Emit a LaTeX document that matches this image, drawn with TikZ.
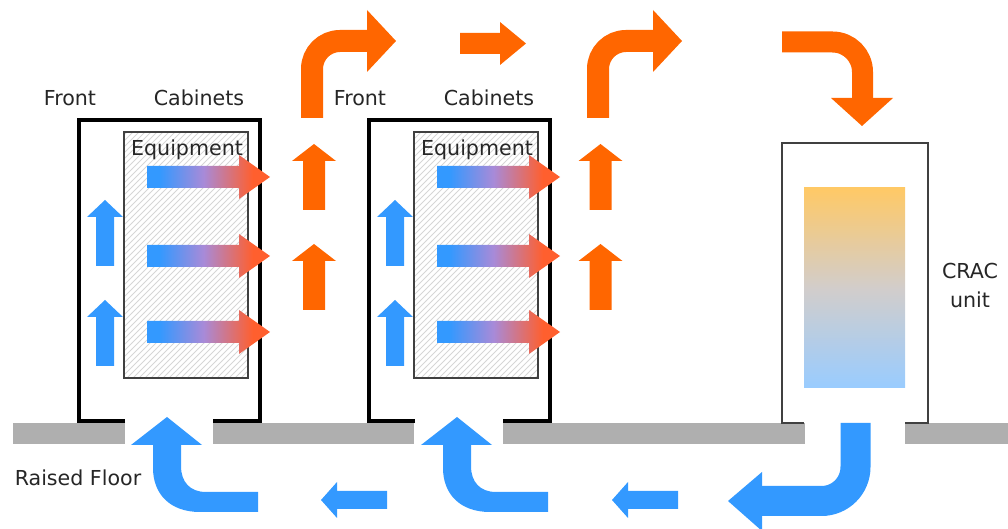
\documentclass[tikz,border=0pt]{standalone}
\usepackage{fontspec}
\setmainfont{DejaVu Sans}
\usetikzlibrary{patterns}
\definecolor{hotair}{HTML}{FF6600}
\definecolor{coldair}{HTML}{3399FF}
\definecolor{warmred}{HTML}{FF5F2E}
\definecolor{heatmid}{HTML}{A88AD8}
\definecolor{floorgray}{HTML}{AFAFAF}
\definecolor{cracwarm}{HTML}{FFC966}
\definecolor{cracmid}{HTML}{D2CDCB}
\definecolor{craccool}{HTML}{99CCFF}
\pgfdeclarehorizontalshading{heat}{100bp}{color(0bp)=(coldair); color(25bp)=(coldair);
  color(30bp)=(coldair); color(48bp)=(heatmid); color(68bp)=(warmred); color(100bp)=(warmred)}
\tikzset{
  lbl/.style={font=\fontsize{10.3}{14}\selectfont,text=black!85,inner sep=0pt,anchor=base},
  cabinet/.style={draw=black,line width=2pt,line join=miter},
  equipment/.style={draw=black!75,line width=0.6pt,pattern=north east lines,pattern color=black!16},
  crac/.style={draw=black!75,line width=0.7pt},
  floor/.style={fill=floorgray},
  hot/.style={fill=hotair},
  cold/.style={fill=coldair},
  hotflow/.style={draw=hotair,line width=11pt},
  coldflow/.style={draw=coldair,line width=15pt},
  heating/.style={shading=heat},
}

\begin{document}
\begin{tikzpicture}[x=0.5pt,y=-0.5pt]
\useasboundingbox (0,0) rectangle (1008,529);
\foreach \a/\b in {13/125, 213/414, 503/805, 905/1008}
  \fill[floor] (\a,423) rectangle (\b,444);
\foreach \dx/\n in {0/1, 290/2}
{
  \draw[cabinet] ({125+\dx},421) -- ({79+\dx},421) -- ({79+\dx},120) -- ({260+\dx},120)
    -- ({260+\dx},421) -- ({213+\dx},421);
  \draw[equipment] ({124+\dx},132) rectangle ({248+\dx},378);
  \node[lbl] (front\n) at ({70+\dx},106) {Front};
  \node[lbl] (cabinets\n) at ({199+\dx},106) {Cabinets};
  \node[lbl] (equipment\n) at ({187+\dx},156) {Equipment};
  \foreach \cy in {177,256,332}
    \shade[heating] ({147+\dx},{\cy-11}) -- ({239+\dx},{\cy-11}) -- ({239+\dx},{\cy-22})
      -- ({270+\dx},\cy) -- ({239+\dx},{\cy+22}) -- ({239+\dx},{\cy+11})
      -- ({147+\dx},{\cy+11}) -- cycle;
  \fill[cold] ({131+\dx},445) -- ({167+\dx},417) -- ({202+\dx},445) -- ({181+\dx},445)
    -- ({181+\dx},466) .. controls ({181+\dx},482) and ({190+\dx},492) .. ({206+\dx},492)
    -- ({258+\dx},492) -- ({258+\dx},512) -- ({200+\dx},512)
    .. controls ({170+\dx},512) and ({153+\dx},494) .. ({153+\dx},468)
    -- ({153+\dx},445) -- cycle;
}
\foreach \cx/\tip/\w/\h/\col in {105/200/9/18/coldair, 105/300/9/18/coldair,
    395/200/9/18/coldair, 395/300/9/18/coldair, 314/144/11/22/hotair,
    314/244/11/22/hotair, 600.5/144/11/22/hotair, 600.5/244/11/22/hotair}
  \fill[\col] ({\cx-\w},{\tip+66}) -- ({\cx-\w},{\tip+17}) -- ({\cx-\h},{\tip+17})
    -- (\cx,\tip) -- ({\cx+\h},{\tip+17}) -- ({\cx+\w},{\tip+17})
    -- ({\cx+\w},{\tip+66}) -- cycle;
\foreach \cx/\hb in {312/367, 598/653}
{
  \draw[hotflow,rounded corners=14pt] (\cx,118) |- ({\hb+1},41);
  \fill[hot] (\hb,10) -- ({\hb+29},41) -- (\hb,72) -- cycle;
}
\fill[hot] (460,33) -- (500,33) -- (500,22) -- (526,43.5) -- (500,65) -- (500,54)
  -- (460,54) -- cycle;
\draw[hotflow,line width=10.5pt,rounded corners=15pt] (782,42) -| (862.5,99);
\fill[hot] (831,98) -- (893,98) -- (862,126) -- cycle;
\draw[crac] (804,423) -- (782,423) -- (782,143) -- (928,143) -- (928,423) -- (905,423);
\shade[top color=cracwarm,bottom color=craccool,middle color=cracmid] (804,188) rectangle (905,388);
\node[lbl] (crac) at (970,279) {CRAC};
\node[lbl] (cracunit) at (970,308) {unit};
\draw[coldflow,rounded corners=17pt] (855.5,423) |- (760,501);
\fill[cold] (762,472) -- (762,531) -- (728,501) -- cycle;
\foreach \dx in {0,291}
  \fill[cold] ({387+\dx},491) -- ({337+\dx},491) -- ({337+\dx},482) -- ({321+\dx},500)
    -- ({337+\dx},518) -- ({337+\dx},509) -- ({387+\dx},509) -- cycle;
\node[lbl] (floorlabel) at (78,486) {Raised Floor};
\end{tikzpicture}
\end{document}
